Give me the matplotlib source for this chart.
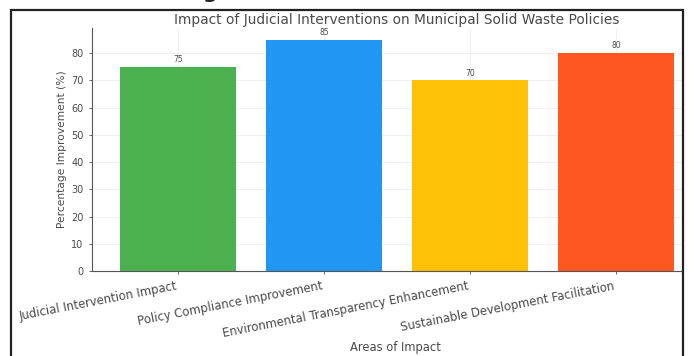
import matplotlib.pyplot as plt
from matplotlib.patches import Rectangle

areas = ['Judicial Intervention Impact', 'Policy Compliance Improvement',
         'Environmental Transparency Enhancement', 'Sustainable Development Facilitation']
improvement = [75, 85, 70, 80]
colors = ['#4CAF50', '#2196F3', '#FFC107', '#FF5722']

txt = '#4a4a4a'

fig = plt.figure(figsize=(6.9, 3.56), dpi=100)
ax = fig.add_axes([92 / 690, 85 / 356, 610 / 690, 243 / 356])

bars = ax.bar(areas, improvement, color=colors, width=0.8, zorder=2)
for b, v in zip(bars, improvement):
    ax.text(b.get_x() + b.get_width() / 2, v + 1, str(v), ha='center', va='bottom',
            fontsize=5.5, color=txt)

ax.set_xlim(-0.59, 3.59)
ax.set_ylim(0, 89.25)
ax.set_yticks(range(0, 90, 10))
ax.grid(True, color='#ececec', linewidth=0.6, zorder=0)
ax.set_axisbelow(True)
for s in ['top', 'right']:
    ax.spines[s].set_visible(False)
for s in ['left', 'bottom']:
    ax.spines[s].set_color('#555555')
    ax.spines[s].set_linewidth(0.8)
ax.tick_params(axis='y', labelsize=7, colors=txt, length=2.5, width=0.6)
ax.tick_params(axis='x', labelsize=8.4, colors=txt, length=2.5, width=0.6)
plt.setp(ax.get_xticklabels(), rotation=11, ha='right', rotation_mode='default')

ax.set_title('Impact of Judicial Interventions on Municipal Solid Waste Policies',
             fontsize=9.9, color=txt, pad=3)
ax.set_xlabel('Areas of Impact', fontsize=8.3, color=txt)
ax.xaxis.set_label_coords(0.498, -0.29)
ax.set_ylabel('Percentage Improvement (%)', fontsize=7.7, color=txt, labelpad=3)

# cut-off letter above the frame
fig.text(210 / 690, 1 + 1.5 / 356, 'g', fontsize=15, fontweight='bold', color='#222222',
         ha='center', va='baseline')

# white strip outside the frame on the right, then the frame itself
fig.patches.append(Rectangle((684 / 690, 0), 6 / 690, 1, transform=fig.transFigure,
                             facecolor='white', edgecolor='none', zorder=10))
fig.patches.append(Rectangle((11 / 690, -0.05), 672 / 690, (346 / 356) + 0.05,
                             transform=fig.transFigure, fill=False,
                             edgecolor='#222222', linewidth=1.6, zorder=11))

fig.savefig('out.png', dpi=100)
